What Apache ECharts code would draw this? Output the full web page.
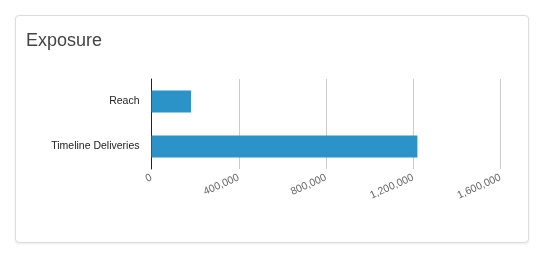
<!DOCTYPE html>
<html>
<head>
<meta charset="utf-8">
<script src="https://cdn.jsdelivr.net/npm/echarts@6/dist/echarts.min.js"></script>
<style>
  html, body { margin: 0; padding: 0; background: #fff; }
  #card { position: absolute; left: 15px; top: 15px; width: 512px; height: 226px;
    border: 1px solid #dcdcdc; border-radius: 4px; box-shadow: 0 1px 2px rgba(0,0,0,0.08); background: #fff; }
  #chart { position: absolute; left: 0; top: 0; width: 544px; height: 258px; }
</style>
</head>
<body>
<div id="card"></div>
<div id="chart"></div>
<script>
const titleText = "Exposure";
const categories = ["Reach", "Timeline Deliveries"];
const values = [181000, 1219000];
const tickMin = 0, tickMax = 1600000, tickStep = 400000;

const chart = echarts.init(document.getElementById('chart'), null, { renderer: 'canvas' });
chart.setOption({
  animation: false,
  title: {
    text: titleText, left: 21, top: 27,
    textStyle: { fontFamily: 'Liberation Sans, Arial, sans-serif', fontSize: 18, fontWeight: 'normal', color: '#444' }
  },
  grid: { left: 151.5, right: 43.5, top: 79, bottom: 89, containLabel: false },
  xAxis: {
    type: 'value', min: tickMin, max: tickMax, interval: tickStep,
    axisLine: { show: false }, axisTick: { show: false },
    splitLine: { show: true, lineStyle: { color: '#cccccc', width: 1 } },
    axisLabel: {
      rotate: 24, margin: 8, color: '#666', fontSize: 10.5,
      fontFamily: 'Liberation Sans, Arial, sans-serif',
      formatter: v => v.toLocaleString('en-US')
    }
  },
  yAxis: {
    type: 'category', data: categories, inverse: true,
    axisLine: { show: true, lineStyle: { color: '#222', width: 1 } },
    axisTick: { show: false },
    axisLabel: { margin: 12, color: '#222', fontSize: 10.5, fontFamily: 'Liberation Sans, Arial, sans-serif' }
  },
  series: [{
    type: 'bar', data: values, barWidth: 22,
    itemStyle: { color: '#2b93c7' }
  }]
});
</script>
</body>
</html>
